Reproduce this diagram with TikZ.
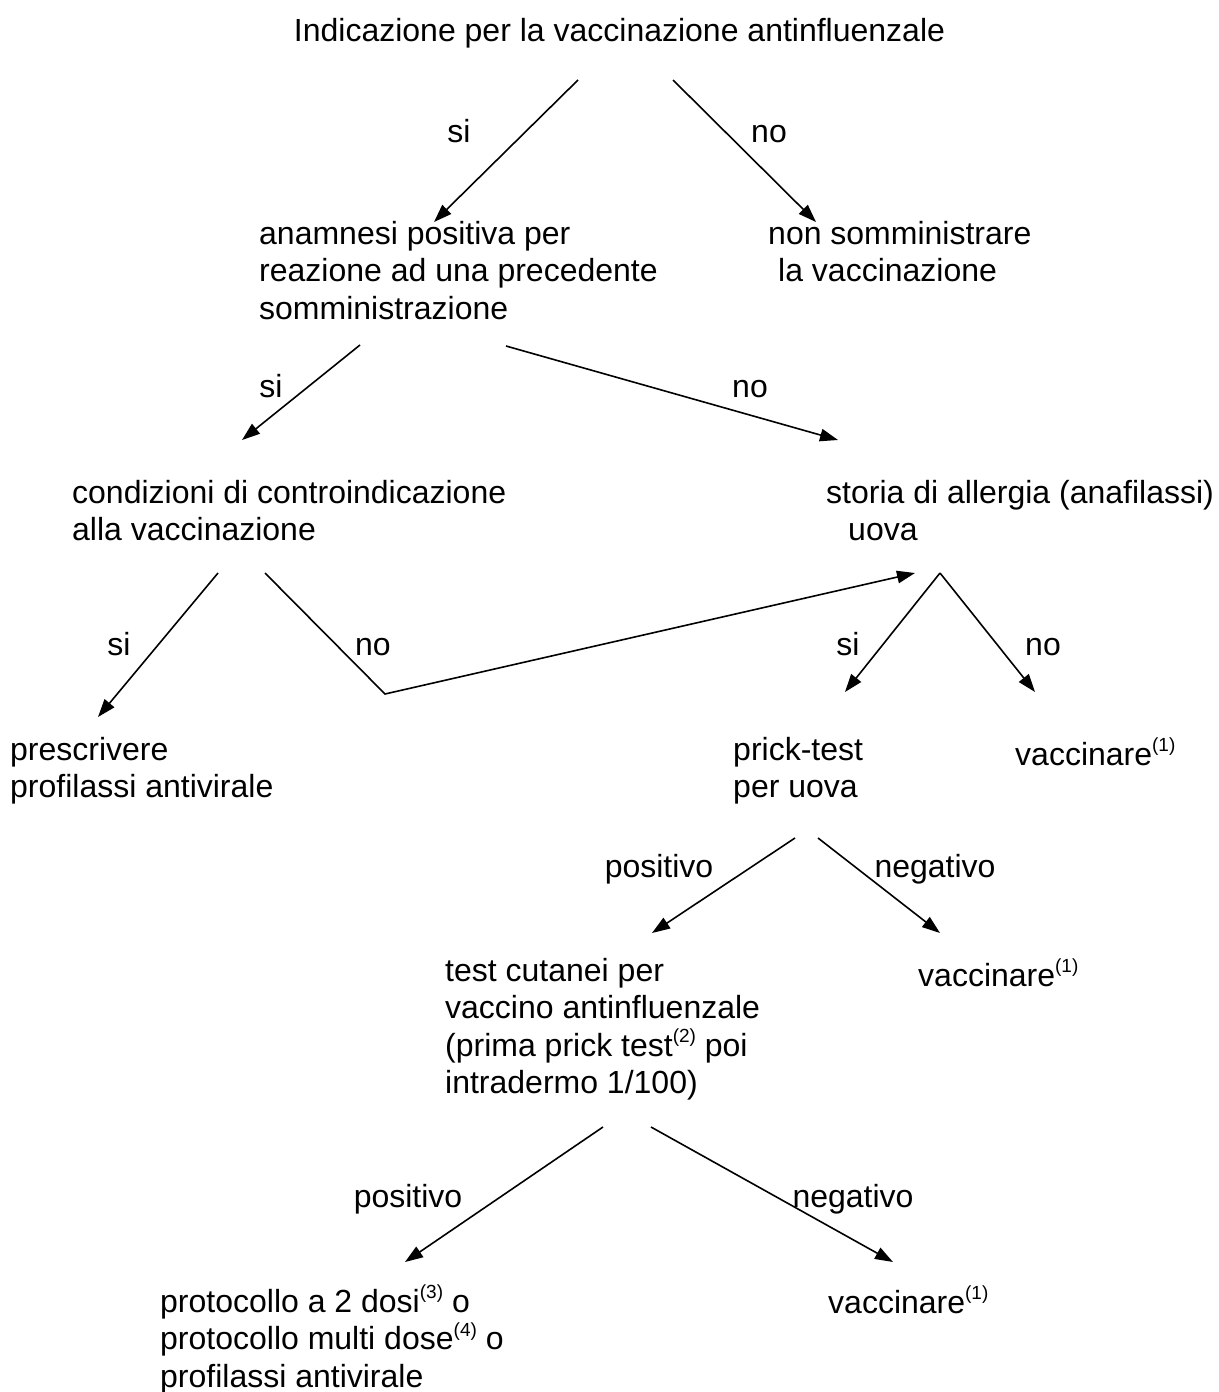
\documentclass[tikz,border=0pt]{standalone}
\usepackage{fontspec}
\setmainfont{Liberation Sans}
\usetikzlibrary{arrows.meta}
\newcommand\sups[1]{\raisebox{0.42em}{\fontsize{19}{19}\selectfont(#1)}}
\begin{document}
\begin{tikzpicture}[x=1pt,y=-1pt,
  txt/.style={anchor=north west, inner sep=0pt, align=left,
    font=\fontsize{32}{37.5}\selectfont,
    execute at begin node={\rule{0pt}{28pt}}},
  lbl/.style={anchor=base, inner sep=0pt, font=\fontsize{32}{37.5}\selectfont},
  arr/.style={line width=1.6pt, -{Triangle[length=18pt,width=12.5pt]}},
  ln/.style={line width=1.6pt, line join=miter}]
\useasboundingbox[fill=white] (0,0) rectangle (1218,1392);

% texts
\node[lbl] (title) at (619.5,41) {Indicazione per la vaccinazione antinfluenzale};
\node[txt] (anam) at (259,221) {anamnesi positiva per\\reazione ad una precedente\\somministrazione};
\node[txt] (nons) at (768,221) {non somministrare\\\hspace*{10pt}la vaccinazione};
\node[txt] (cond) at (72,480) {condizioni di controindicazione\\alla vaccinazione};
\node[txt] (stor) at (826,480) {storia di allergia (anafilassi)\\\hspace*{22pt}uova};
\node[txt] (presc) at (10,737) {prescrivere\\profilassi antivirale};
\node[txt] (prick) at (733,737) {prick-test\\per uova};
\node[txt] (vac1) at (1015,737) {vaccinare\sups{1}};
\node[txt] (test) at (445,958) {test cutanei per\\vaccino antinfluenzale\\(prima prick test\sups{2} poi\\intradermo 1/100)};
\node[txt] (vac2) at (918,958) {vaccinare\sups{1}};
\node[txt] (prot) at (160,1285) {protocollo a 2 dosi\sups{3} o\\protocollo multi dose\sups{4} o\\profilassi antivirale};
\node[txt] (vac3) at (828,1285) {vaccinare\sups{1}};

% labels
\node[lbl] (si1) at (459,142) {si};
\node[lbl] (no1) at (769,142) {no};
\node[lbl] (si2) at (271,397) {si};
\node[lbl] (no2) at (750,397) {no};
\node[lbl] (si3) at (119,655) {si};
\node[lbl] (no3) at (373,655) {no};
\node[lbl] (si4) at (848,655) {si};
\node[lbl] (no4) at (1043,655) {no};
\node[lbl] (pos1) at (659,877) {positivo};
\node[lbl] (neg1) at (935,877) {negativo};
\node[lbl] (pos2) at (408,1207) {positivo};
\node[lbl] (neg2) at (853,1207) {negativo};

% connector end points
\coordinate (t0a) at (578,80);  \coordinate (anamT) at (434,222);
\coordinate (t0b) at (673,80);  \coordinate (nonsT) at (816,222);
\coordinate (an0a) at (360,345); \coordinate (condT) at (242,440);
\coordinate (an0b) at (506,346); \coordinate (storT) at (838,440);
\coordinate (co0a) at (218,573); \coordinate (prescT) at (98,717);
\coordinate (co0b) at (265,573); \coordinate (corner) at (385,694);
\coordinate (storT2) at (915,573);
\coordinate (st0) at (940,573);
\coordinate (prickT) at (845,692); \coordinate (vac1T) at (1035,692);
\coordinate (pr0a) at (795,838); \coordinate (testT) at (652,933);
\coordinate (pr0b) at (818,838); \coordinate (vac2T) at (940,933);
\coordinate (te0a) at (603,1127); \coordinate (protT) at (405,1262);
\coordinate (te0b) at (651,1127); \coordinate (vac3T) at (893,1262);

% connectors
\draw[arr] (t0a) -- (anamT);
\draw[arr] (t0b) -- (nonsT);
\draw[arr] (an0a) -- (condT);
\draw[arr] (an0b) -- (storT);
\draw[arr] (co0a) -- (prescT);
\draw[arr] (co0b) -- (corner) -- (storT2);
\draw[arr] (st0) -- (prickT);
\draw[arr] (st0) -- (vac1T);
\draw[arr] (pr0a) -- (testT);
\draw[arr] (pr0b) -- (vac2T);
\draw[arr] (te0a) -- (protT);
\draw[arr] (te0b) -- (vac3T);
\end{tikzpicture}
\end{document}
